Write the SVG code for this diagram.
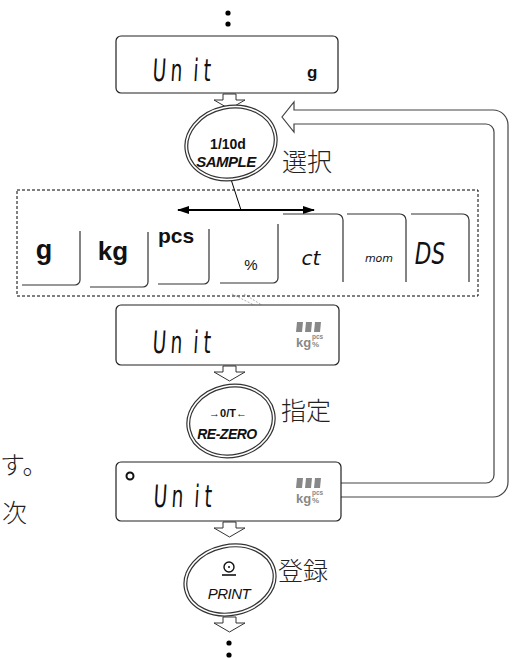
<svg xmlns="http://www.w3.org/2000/svg" width="517" height="659" viewBox="0 0 517 659">
<style>
.box{fill:#fff;stroke:#222;stroke-width:1.2}
.harrow{fill:#fff;stroke:#333;stroke-width:1}
.seg{font-family:"DejaVu Sans",sans-serif;font-size:31px;font-weight:normal;fill:#111}
.jp{font-family:"Noto Sans CJK JP",sans-serif;font-size:25px;font-weight:300;fill:#222}
.key{fill:none;stroke:#333;stroke-width:1.2}
.lbl{font-family:"Liberation Sans",Arial,sans-serif;font-weight:bold;fill:#111}
.eo{fill:#fff;stroke:#333;stroke-width:4}
.ei{fill:none;stroke:#fff;stroke-width:1.6}
.blk{fill:#888}
.itx{font-family:"Liberation Sans",Arial,sans-serif;font-weight:bold;fill:#888}
.dot{fill:#000}
</style>
<defs>
<marker id="ah" viewBox="0 0 12 8" refX="11" refY="4" markerWidth="12" markerHeight="8" markerUnits="userSpaceOnUse" orient="auto-start-reverse">
<path d="M0,0 L12,4 L0,8 z" fill="#000"/>
</marker>
<g id="icon">
<polygon points="1,0 7,0 6,10 0,10" class="blk"/>
<polygon points="10,0 16,0 15,10 9,10" class="blk"/>
<polygon points="19,0 25,0 24,10 18,10" class="blk"/>
<text x="0" y="25" class="itx" font-size="13">kg</text>
<text x="16" y="17" class="itx" font-size="6.5">pcs</text>
<text x="16" y="25" class="itx" font-size="8">%</text>
</g>
</defs>

<g id="connectors">
<circle class="dot" cx="228" cy="13" r="2.6"/>
<circle class="dot" cx="228" cy="24" r="2.6"/>
<polygon class="harrow" points="223,94 236,94 236,100 245,100 229.5,109 214,100 223,100"/>
<polygon class="harrow" points="223,366 236,366 236,372 245,372 229.5,381 214,372 223,372"/>
<polygon class="harrow" points="223,522 236,522 236,528 245,528 229.5,537 214,528 223,528"/>
<polygon class="harrow" points="223,617 236,617 236,623 245,623 229.5,632 214,623 223,623"/>
<circle class="dot" cx="229" cy="643" r="2.6"/>
<circle class="dot" cx="229" cy="655" r="2.6"/>
<path d="M341,497 H493 A15,15 0 0 0 508,482 V125 A15,15 0 0 0 493,110 H294 V102 L282,117 L294,132 V124 H486 A8,8 0 0 1 494,132 V475 A8,8 0 0 1 486,483 H341" fill="#fff" stroke="#444" stroke-width="1.2"/>
<line x1="226" y1="164" x2="241" y2="210" stroke="#000" stroke-width="1"/>
<line x1="178" y1="210" x2="314" y2="210" stroke="#000" stroke-width="2" marker-start="url(#ah)" marker-end="url(#ah)"/>
<line x1="232" y1="294" x2="298" y2="327" stroke="#999" stroke-width="0.8" stroke-dasharray="2,1.5"/>
<line x1="244" y1="294" x2="302" y2="330" stroke="#999" stroke-width="0.8" stroke-dasharray="2,1.5"/>
</g>

<g id="display1">
<rect class="box" x="116" y="36" width="222" height="57" rx="5"/>
<g transform="translate(152,81) scale(0.6,1) skewX(-6)"><text class="seg"><tspan x="0">U</tspan><tspan x="30">n</tspan><tspan x="68">i</tspan><tspan x="85">t</tspan></text></g>
<text class="lbl" x="307" y="78" font-size="17">g</text>
</g>

<g id="sample-key">
<ellipse class="eo" cx="231" cy="143" rx="45" ry="36" transform="rotate(-12 231 143)"/>
<ellipse class="ei" cx="231" cy="143" rx="45" ry="36" transform="rotate(-12 231 143)"/>
<text class="lbl" x="228" y="149" font-size="14" text-anchor="middle">1/10d</text>
<text class="lbl" x="226" y="167" font-size="15" text-anchor="middle" font-style="italic" letter-spacing="-0.5">SAMPLE</text>
</g>
<g id="label-select"><text class="jp" x="282" y="171">選択</text></g>

<g id="units">
<rect x="17" y="190" width="461" height="106" fill="none" stroke="#000" stroke-width="1" stroke-dasharray="3,2"/>
<g id="key-g"><path class="key" d="M22,285 H75 A5,5 0 0 0 80,280 V231"/><text class="lbl" x="44" y="259" font-size="27" text-anchor="middle">g</text></g>
<g id="key-kg"><path class="key" d="M90,287 H143 A5,5 0 0 0 148,282 V232" stroke="#555" stroke-width="1.6"/><text class="lbl" x="113" y="260" font-size="26" text-anchor="middle">kg</text></g>
<g id="key-pcs"><path class="key" d="M158,284 H204 A5,5 0 0 0 209,279 V229"/><text class="lbl" x="176" y="243" font-size="21" text-anchor="middle">pcs</text></g>
<g id="key-pct"><path class="key" d="M220,283 H273 A5,5 0 0 0 278,278 V224"/><text x="251" y="270" font-size="15" text-anchor="middle" font-family="Liberation Sans, Arial, sans-serif" fill="#111">%</text></g>
<g id="key-ct"><path class="key" d="M283,214 H337 A6,6 0 0 1 343,220 V282"/><text x="311" y="265" font-size="20" text-anchor="middle" font-family="DejaVu Sans, sans-serif" font-style="oblique" fill="#111">ct</text></g>
<g id="key-mom"><path class="key" d="M347,214 H400 A6,6 0 0 1 406,220 V282"/><text x="379" y="262" font-size="11" text-anchor="middle" font-family="DejaVu Sans, sans-serif" font-style="oblique" fill="#111">mom</text></g>
<g id="key-ds"><path class="key" d="M411,214 H463 A6,6 0 0 1 469,220 V282"/><g transform="translate(430,264) scale(0.72,1)"><text x="0" y="0" font-size="30" text-anchor="middle" font-family="DejaVu Sans, sans-serif" font-style="oblique" fill="#111">DS</text></g></g>
</g>

<g id="display2">
<rect class="box" x="116" y="305" width="223" height="60" rx="5"/>
<g transform="translate(152,353) scale(0.6,1) skewX(-6)"><text class="seg"><tspan x="0">U</tspan><tspan x="30">n</tspan><tspan x="68">i</tspan><tspan x="85">t</tspan></text></g>
<use href="#icon" x="296" y="322"/>
</g>

<g id="rezero-key">
<ellipse class="eo" cx="231" cy="421" rx="43" ry="35" transform="rotate(-12 231 421)"/>
<ellipse class="ei" cx="231" cy="421" rx="43" ry="35" transform="rotate(-12 231 421)"/>
<text class="lbl" x="228" y="417" font-size="11" text-anchor="middle">→0/T←</text>
<text class="lbl" x="227" y="439" font-size="14" text-anchor="middle" font-style="italic" letter-spacing="-0.5">RE-ZERO</text>
</g>
<g id="label-set"><text class="jp" x="281" y="420">指定</text></g>

<g id="display3">
<rect class="box" x="116" y="462" width="225" height="59" rx="5"/>
<circle cx="130" cy="476" r="3.5" fill="none" stroke="#111" stroke-width="2"/>
<g transform="translate(153,507) scale(0.6,1) skewX(-6)"><text class="seg"><tspan x="0">U</tspan><tspan x="30">n</tspan><tspan x="68">i</tspan><tspan x="85">t</tspan></text></g>
<use href="#icon" x="296" y="478"/>
</g>

<g id="print-key">
<ellipse class="eo" cx="230" cy="580" rx="45" ry="34" transform="rotate(-12 230 580)"/>
<ellipse class="ei" cx="230" cy="580" rx="45" ry="34" transform="rotate(-12 230 580)"/>
<circle cx="229" cy="567" r="5" fill="none" stroke="#111" stroke-width="1.4"/>
<circle cx="229" cy="567" r="1" fill="#111"/>
<line x1="222" y1="575" x2="236" y2="575" stroke="#111" stroke-width="1.6"/>
<text x="229" y="599" font-size="15" text-anchor="middle" font-style="italic" font-family="Liberation Sans, Arial, sans-serif" fill="#111" letter-spacing="-0.5">PRINT</text>
</g>
<g id="label-store"><text class="jp" x="278" y="580">登録</text></g>

<g id="side-text">
<text class="jp" x="0" y="474" font-size="22">す。</text>
<text class="jp" x="2" y="522" font-size="22">次</text>
</g>
</svg>
